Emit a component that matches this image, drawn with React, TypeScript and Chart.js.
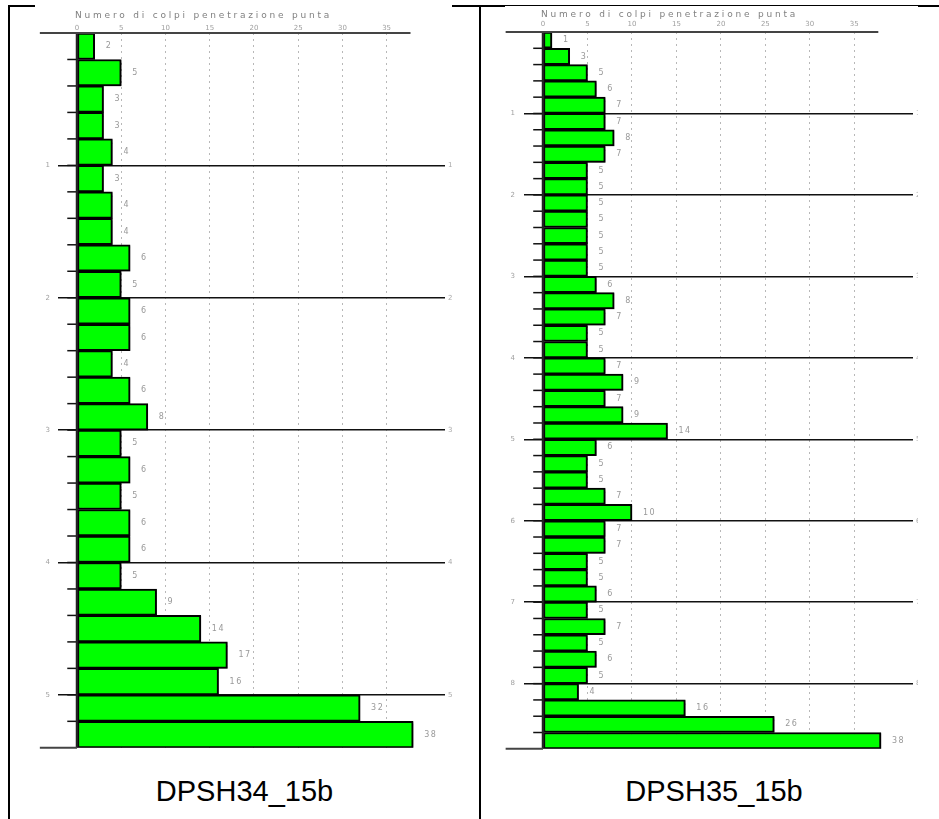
import React, { useEffect, useRef } from 'react';
import { Chart, registerables } from 'chart.js';

Chart.register(...registerables);

// ---- data ----
const STEP_M = 0.2; // each reading covers 20 cm
const AXIS_TITLE = 'Numero di colpi penetrazione punta';
const X_TICKS = [0, 5, 10, 15, 20, 25, 30, 35];

const DPSH34_NAME = 'DPSH34_15b';
const DPSH34_BLOWS = [
  2, 5, 3, 3, 4,
  3, 4, 4, 6, 5,
  6, 6, 4, 6, 8,
  5, 6, 5, 6, 6,
  5, 9, 14, 17, 16,
  32, 38,
];
const DPSH34_DEPTH_TICKS = [1, 2, 3, 4, 5];

const DPSH35_NAME = 'DPSH35_15b';
const DPSH35_BLOWS = [
  1, 3, 5, 6, 7,
  7, 8, 7, 5, 5,
  5, 5, 5, 5, 5,
  6, 8, 7, 5, 5,
  7, 9, 7, 9, 14,
  6, 5, 5, 7, 10,
  7, 7, 5, 5, 6,
  5, 7, 5, 6, 5,
  4, 16, 26, 38,
];
const DPSH35_DEPTH_TICKS = [1, 2, 3, 4, 5, 6, 7, 8];

const SMALL_FONT = '"DejaVu Sans", sans-serif';

const probePlugin = {
  id: 'probe',
  beforeDatasetsDraw(chart: any) {
    const ctx = chart.ctx;
    ctx.save();
    ctx.shadowColor = 'rgba(0,0,0,0.35)';
    ctx.shadowOffsetX = 2;
    ctx.shadowOffsetY = 1;
    ctx.shadowBlur = 1;
  },
  afterDatasetsDraw(chart: any, _args: any, opts: any) {
    const ctx = chart.ctx;
    ctx.restore();
    const xs = chart.scales.x;
    const ys = chart.scales.y;
    const x0 = xs.getPixelForValue(0);
    const top = ys.getPixelForValue(0);
    const bottom = ys.getPixelForValue(ys.max);
    const line = (a: number, b: number, c: number, d: number) => {
      ctx.beginPath();
      ctx.moveTo(a, b);
      ctx.lineTo(c, d);
      ctx.stroke();
    };
    ctx.save();
    // boundary ticks between readings
    const n = chart.data.datasets[0].data.length;
    ctx.strokeStyle = '#111';
    ctx.lineWidth = 1.5;
    for (let i = 1; i < n; i++) {
      const y = ys.getPixelForValue(i * STEP_M);
      line(xs.getPixelForValue(-1.1), y, x0, y);
    }
    // zero line
    ctx.lineWidth = 2.5;
    ctx.strokeStyle = '#222';
    line(x0, top, x0, bottom);
    // top and bottom lines
    ctx.strokeStyle = '#444';
    ctx.lineWidth = 2;
    line(xs.getPixelForValue(-4.2), top, xs.getPixelForValue(37.7), top);
    line(xs.getPixelForValue(-4.2), bottom, x0, bottom);

    // value labels
    const meta = chart.getDatasetMeta(0);
    ctx.fillStyle = '#999';
    ctx.font = `8px ${SMALL_FONT}`;
    (ctx as any).letterSpacing = '1.5px';
    ctx.textAlign = 'left';
    ctx.textBaseline = 'middle';
    meta.data.forEach((el: any, i: number) => {
      ctx.fillText(String(chart.data.datasets[0].data[i].x), el.x + 11, el.y);
    });

    // right side depth labels
    ctx.fillStyle = '#aaa';
    ctx.font = `7px ${SMALL_FONT}`;
    (ctx as any).letterSpacing = '0px';
    opts.depthTicks.forEach((d: number) => {
      ctx.fillText(String(d), chart.chartArea.right + 3, ys.getPixelForValue(d));
    });

    // axis title
    ctx.fillStyle = '#808080';
    ctx.font = `9px ${SMALL_FONT}`;
    (ctx as any).letterSpacing = '2.8px';
    ctx.textBaseline = 'middle';
    ctx.fillText(AXIS_TITLE, x0 - 2, top + opts.titleDy);
    ctx.restore();
  },
};

type ProbeProps = {
  blows: number[];
  depthTicks: number[];
  left: number;
  top: number;
  width: number;
  height: number;
  yAxisWidth: number;
  xAxisHeight: number;
  padRight: number;
  padBottom: number;
  xTickPad: number;
  yTickPad: number;
  titleDy: number;
};

function ProbeChart(p: ProbeProps) {
  const ref = useRef<HTMLCanvasElement | null>(null);
  useEffect(() => {
    if (!ref.current) return;
    const maxDepth = p.blows.length * STEP_M;
    const chart = new Chart(ref.current, {
      type: 'bar',
      data: {
        datasets: [
          {
            data: p.blows.map((v, i) => ({ x: v, y: (i + 0.5) * STEP_M })),
            backgroundColor: '#00ff00',
            borderColor: '#000',
            borderWidth: 2,
            borderSkipped: false,
            barPercentage: 1,
            categoryPercentage: 1,
          } as any,
        ],
      },
      options: {
        indexAxis: 'y',
        animation: false,
        responsive: false,
        events: [],
        layout: { padding: { left: 0, top: 0, right: p.padRight, bottom: p.padBottom } },
        plugins: {
          legend: { display: false },
          tooltip: { enabled: false },
          probe: { depthTicks: p.depthTicks, titleDy: p.titleDy },
        } as any,
        scales: {
          x: {
            type: 'linear',
            position: 'top',
            min: 0,
            max: 41.6,
            afterBuildTicks: (s: any) => {
              s.ticks = X_TICKS.map((v) => ({ value: v }));
            },
            afterFit: (s: any) => {
              s.height = p.xAxisHeight;
            },
            grid: {
              color: (c: any) => (c.tick && c.tick.value === 0 ? 'rgba(0,0,0,0)' : '#b8b8b8'),
              lineWidth: 1,
              drawTicks: false,
            },
            border: { display: false, dash: [2, 4] },
            ticks: {
              font: { size: 7, family: SMALL_FONT },
              color: '#a0a0a0',
              padding: p.xTickPad,
              autoSkip: false,
              maxRotation: 0,
            },
          },
          y: {
            type: 'linear',
            reverse: true,
            min: 0,
            max: maxDepth,
            offset: false,
            afterBuildTicks: (s: any) => {
              s.ticks = p.depthTicks.map((v) => ({ value: v }));
            },
            afterFit: (s: any) => {
              s.width = p.yAxisWidth;
            },
            grid: {
              color: '#111',
              lineWidth: 1.5,
              tickLength: 19,
              tickColor: '#111',
              tickWidth: 1.5,
              offset: false,
            },
            border: { display: false },
            ticks: {
              font: { size: 7, family: SMALL_FONT },
              color: '#a0a0a0',
              padding: p.yTickPad,
              autoSkip: false,
            },
          },
        } as any,
      },
      plugins: [probePlugin],
    });
    return () => chart.destroy();
  }, []);
  return (
    <canvas
      ref={ref}
      width={p.width}
      height={p.height}
      style={{
        position: 'absolute',
        left: p.left,
        top: p.top,
        width: p.width,
        height: p.height,
        background: '#fff',
      }}
    />
  );
}

const border = (left: number, top: number, width: number, height: number) => (
  <div style={{ position: 'absolute', left, top, width, height, background: '#000' }} />
);

export default function App() {
  const caption: React.CSSProperties = {
    position: 'absolute',
    top: 774,
    fontFamily: '"Liberation Sans", Arial, sans-serif',
    fontSize: 29,
    lineHeight: '34px',
    color: '#000',
    textAlign: 'center',
  };
  return (
    <div
      style={{
        position: 'absolute',
        left: 0,
        top: 0,
        width: 939,
        height: 819,
        background: '#fff',
        overflow: 'hidden',
      }}
    >
      {border(8, 5, 931, 2)}
      {border(8, 5, 2, 814)}
      {border(479, 5, 2, 814)}
      <ProbeChart
        blows={DPSH34_BLOWS}
        depthTicks={DPSH34_DEPTH_TICKS}
        left={35}
        top={4}
        width={417}
        height={756}
        yAxisWidth={42}
        xAxisHeight={29}
        padRight={7}
        padBottom={8}
        xTickPad={1}
        yTickPad={8}
        titleDy={-17}
      />
      <ProbeChart
        blows={DPSH35_BLOWS}
        depthTicks={DPSH35_DEPTH_TICKS}
        left={505}
        top={6}
        width={413}
        height={756}
        yAxisWidth={38}
        xAxisHeight={26}
        padRight={5}
        padBottom={9}
        xTickPad={4}
        yTickPad={9}
        titleDy={-17}
      />
      <div style={{ ...caption, left: 10, width: 469 }}>{DPSH34_NAME}</div>
      <div style={{ ...caption, left: 481, width: 466 }}>{DPSH35_NAME}</div>
    </div>
  );
}
